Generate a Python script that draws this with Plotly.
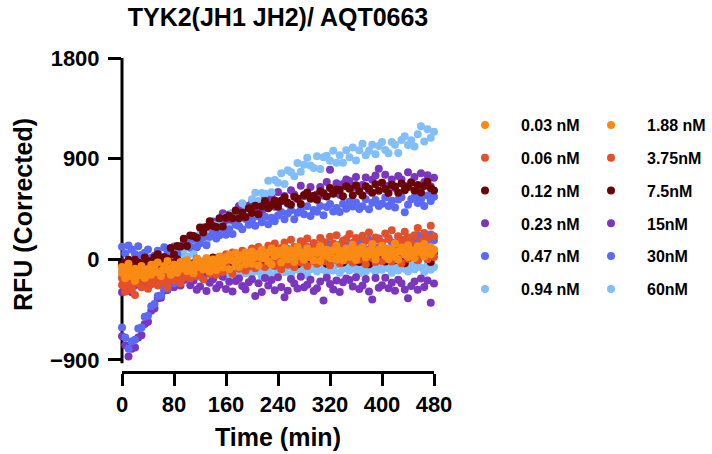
import plotly.graph_objects as go

FONT = "Arial, 'Liberation Sans', sans-serif"

# sampling times (min)
time_min = list(range(0, 481, 5))
x_ticks = [0, 80, 160, 240, 320, 400, 480]
y_ticks = [-900, 0, 900, 1800]

labels = ["0.03 nM", "0.06 nM", "0.12 nM", "0.23 nM", "0.47 nM", "0.94 nM",
          "1.88 nM", "3.75nM", "7.5nM", "15nM", "30nM", "60nM"]
colors = ["#F98A14", "#E3502A", "#6A0404", "#7B36BF", "#5A6AF6", "#82BEF9",
          "#F98A14", "#E3502A", "#6A0404", "#7B36BF", "#5A6AF6", "#82BEF9"]

rfu_0_03 = [
    -122, -170, -92, -152, -195, -115, -134, -168, -88, -138,
    -58, -116, -150, -75, -96, -140, -62, -120, -86, -45,
    -108, -62, -125, -72, -30, -92, -48, -110, -40, -98,
    -26, -75, -8, -90, -12, -52, -70, 15, -45, -4,
    -40, 22, -58, 10, 38, -20, -45, 28, 45, -30,
    35, 0, 62, -22, 55, 25, -5, 70, 18, -10,
    72, -15, 55, 60, 10, 80, -5, 45, -10, 65,
    20, 82, -8, 52, 95, 15, 40, 78, -2, 58,
    95, 30, 0, 78, 52, -5, 70, 92, 20, 50,
    10, 88, 62, 25, 100, 45, 80]
rfu_0_06 = [
    -230, -290, -200, -275, -320, -215, -250, -180, -265, -225,
    -170, -235, -150, -205, -250, -160, -190, -130, -215, -165,
    -110, -170, -95, -150, -120, -180, -85, -130, -70, -140,
    -60, -115, -40, -95, -130, -50, -85, -20, -100, -65,
    -20, -80, -35, 5, -70, -45, 10, -60, -25, -90,
    15, -50, -10, -70, 25, -30, 5, -60, 30, -15,
    -40, 35, -20, 20, -55, 40, 0, -35, 50, -10,
    30, -30, 55, -5, 20, -45, 45, 10, -25, 60,
    -15, 40, 65, -20, 25, 50, -35, 70, 5, 30,
    55, -10, 45, 75, 0, 40, 20]
rfu_0_12 = [
    -40, -100, -60, -20, -85, -130, -50, -75, -15, -95,
    -65, -10, -90, -45, -120, -30, -70, 0, -55, -85,
    -20, -75, -35, 5, -60, -95, -15, -40, 15, -70,
    -45, 10, -30, -65, 25, -10, -50, 35, -20, 5,
    -35, 40, 0, -55, 20, -25, 50, -10, 30, -40,
    15, -30, 55, 5, -45, 35, -15, 60, 0, 25,
    -20, 45, 10, -40, 65, 20, -5, 50, -30, 35,
    70, 0, 40, -25, 55, 15, -45, 80, 25, 5,
    45, -20, 75, 30, -10, 60, 10, -35, 85, 20,
    50, -5, 40, 90, 15, -25, 60]
rfu_0_23 = [
    -690, -770, -870, -800, -790, -700, -680, -580, -560, -460,
    -440, -350, -345, -280, -275, -230, -250, -200, -235, -185,
    -169, -233, -191, -274, -244, -161, -285, -210, -180, -259,
    -229, -157, -266, -202, -289, -195, -172, -240, -270, -206,
    -180, -330, -214, -293, -169, -236, -187, -278, -161, -248,
    -340, -281, -176, -217, -263, -157, -251, -229, -184, -285,
    -259, -199, -370, -165, -221, -270, -191, -293, -206, -172,
    -187, -244, -161, -266, -236, -176, -289, -360, -169, -255,
    -233, -165, -259, -210, -281, -184, -214, -270, -350, -240,
    -199, -274, -172, -248, -191, -390, -217]
rfu_0_47 = [
    -610, -700, -800, -735, -720, -620, -610, -515, -505, -420,
    -400, -330, -325, -260, -265, -200, -215, -160, -185, -130,
    -150, -115, -125, -80, -110, -60, -95, -45, -85, -40,
    -70, -20, -55, 5, -35, 20, -25, 30, -10, 40,
    -20, 45, 0, 60, 15, 70, -5, 55, 25, 85,
    30, 90, 50, 15, 100, 65, 35, 110, 55, 80,
    120, 60, 95, 140, 70, 115, 45, 130, 90, 155,
    100, 145, 75, 165, 120, 90, 175, 130, 105, 185,
    140, 95, 190, 150, 120, 200, 135, 175, 110, 195,
    160, 215, 130, 185, 145, 220, 170]
rfu_0_94 = [
    -150, -200, -130, -185, -160, -215, -140, -175, -120, -190,
    -165, -125, -200, -145, -110, -180, -155, -130, -195, -140,
    -115, -170, -135, -95, -160, -125, -185, -105, -150, -120,
    -140, -90, -165, -115, -135, -80, -150, -105, -125, -95,
    -130, -75, -110, -150, -90, -120, -70, -140, -100, -85,
    -115, -65, -135, -95, -60, -120, -80, -145, -90, -70,
    -110, -55, -95, -130, -75, -100, -50, -120, -85, -65,
    -100, -45, -90, -125, -70, -110, -55, -85, -115, -60,
    -95, -40, -80, -120, -60, -100, -45, -85, -110, -55,
    -90, -35, -75, -115, -50, -95, -70]
rfu_1_88 = [
    -70, -125, -40, -110, -85, -145, -60, -95, -130, -50,
    -90, -30, -105, -60, -15, -80, -50, -95, -25, -65,
    -10, -70, -45, 5, -60, -20, 10, -55, -5, -35,
    25, -30, 15, 40, -10, 55, 0, 35, 60, 10,
    70, 20, 45, 85, 10, 60, 95, 30, 75, 40,
    100, 35, 80, 15, 110, 60, 45, 95, 20, 70,
    55, 115, 30, 85, 65, 10, 120, 75, 40, 95,
    60, 130, 25, 90, 110, 45, 75, 135, 30, 85,
    120, 55, 95, 20, 140, 70, 105, 40, 125, 80,
    50, 115, 90, 135, 60, 110, 85]
rfu_3_75 = [
    -170, -230, -185, -250, -140, -215, -175, -120, -200, -160,
    -130, -185, -110, -160, -200, -95, -145, -170, -80, -120,
    -60, -115, -75, -40, -95, -20, -70, -50, 0, -45,
    20, -35, 45, 0, 60, -15, 35, 75, 15, 55,
    95, 40, 110, 65, 20, 120, 80, 140, 55, 100,
    150, 90, 175, 110, 70, 160, 130, 185, 95, 145,
    120, 190, 155, 85, 200, 140, 215, 110, 165, 180,
    225, 140, 190, 110, 210, 165, 240, 130, 195, 175,
    150, 230, 180, 260, 125, 205, 170, 245, 195, 140,
    215, 280, 160, 235, 190, 300, 205]
rfu_7_5 = [
    -28, -56, -5, -73, -5, -28, -47, 15, -25, -60,
    17, 44, -21, 19, 4, 100, 42, 119, 114, 183,
    118, 213, 208, 192, 283, 240, 289, 339, 297, 288,
    366, 292, 372, 389, 366, 434, 367, 418, 377, 455,
    413, 479, 403, 474, 520, 455, 486, 525, 470, 523,
    554, 506, 488, 559, 544, 495, 575, 596, 541, 568,
    531, 607, 589, 560, 637, 585, 623, 620, 563, 652,
    630, 573, 662, 607, 570, 652, 631, 594, 671, 613,
    683, 627, 593, 666, 651, 594, 678, 618, 647, 684,
    615, 663, 597, 656, 692, 635, 614]
rfu_15 = [
    -296, -240, -208, -296, -234, -200, -238, -156, -245, -171,
    -177, -111, -184, -84, -37, -90, -40, -52, 53, 29,
    140, 102, 171, 108, 170, 283, 176, 281, 338, 269,
    316, 412, 316, 399, 322, 437, 476, 416, 397, 478,
    518, 446, 498, 422, 562, 498, 558, 470, 602, 518,
    566, 497, 616, 579, 538, 657, 563, 593, 647, 545,
    579, 647, 567, 691, 800, 592, 680, 576, 672, 712,
    700, 644, 736, 628, 664, 732, 615, 710, 748, 810,
    682, 756, 658, 712, 638, 744, 714, 656, 777, 690,
    736, 658, 768, 690, 752, 650, 728]
rfu_30 = [
    111, 52, 123, 86, 45, 117, 41, 57, 88, 13,
    32, 75, 16, 107, 75, 47, 113, 46, 114, 147,
    145, 111, 180, 112, 142, 196, 125, 200, 236, 185,
    214, 276, 218, 266, 226, 308, 298, 267, 360, 309,
    349, 300, 381, 331, 380, 313, 372, 339, 392, 422,
    357, 409, 439, 358, 416, 443, 403, 474, 387, 440,
    425, 476, 394, 466, 494, 426, 458, 423, 496, 451,
    515, 472, 507, 449, 474, 537, 448, 506, 530, 475,
    497, 552, 475, 524, 463, 534, 554, 420, 487, 536,
    556, 503, 534, 477, 569, 521, 558]
rfu_60 = [
    -100, -150, -72, -120, -150, -72, -95, -125, -52, -103,
    -25, -68, -90, -12, -15, -55, 33, -6, 38, 87,
    26, 124, 48, 152, 224, 160, 148, 256, 308, 202,
    305, 277, 378, 286, 415, 400, 384, 500, 452, 398,
    536, 594, 520, 593, 586, 702, 599, 708, 684, 768,
    672, 795, 779, 742, 861, 783, 844, 908, 838, 816,
    922, 808, 912, 926, 880, 970, 864, 930, 864, 974,
    913, 1000, 882, 975, 1032, 929, 970, 1023, 940, 1013,
    1049, 977, 948, 1048, 1023, 951, 1066, 1100, 1022, 1064,
    1009, 1118, 1190, 1053, 1162, 1087, 1140]

series = [rfu_0_03, rfu_0_06, rfu_0_12, rfu_0_23, rfu_0_47, rfu_0_94,
          rfu_1_88, rfu_3_75, rfu_7_5, rfu_15, rfu_30, rfu_60]
for s in series:
    assert len(s) == len(time_min), len(s)

# drawing order (later = on top)
draw_order = [5, 3, 9, 11, 4, 10, 8, 2, 7, 1, 6, 0]

fig = go.Figure()
for i in draw_order:
    fig.add_trace(go.Scatter(
        x=time_min, y=series[i], mode="markers", name=labels[i],
        marker=dict(color=colors[i], size=8, line=dict(width=0)),
        legend="legend" if i < 6 else "legend2",
        legendgroup=labels[i], legendrank=i, cliponaxis=False,
    ))

W, H = 712, 454
legend_common = dict(
    xref="container", yref="container", xanchor="left", yanchor="top",
    font=dict(family=FONT, size=16, color="black", weight="bold"),
    itemwidth=62, tracegroupgap=9, traceorder="grouped", itemsizing="trace",
    bgcolor="rgba(0,0,0,0)", borderwidth=0,
)

fig.update_layout(
    width=W, height=H,
    margin=dict(l=122, r=278, t=58, b=83, autoexpand=False),
    paper_bgcolor="white", plot_bgcolor="white",
    font=dict(family=FONT, color="black"),
    title=dict(text="TYK2(JH1 JH2)/ AQT0663", xref="paper", x=0.5, xanchor="center",
               yref="container", y=1 - 17 / H, yanchor="middle",
               font=dict(family=FONT, size=25, color="black", weight="bold")),
    xaxis=dict(range=[0, 480], tickvals=x_ticks, ticks="outside", ticklen=12, tickwidth=3,
               tickcolor="black", showline=True, linewidth=3, linecolor="black",
               showgrid=False, zeroline=False,
               tickfont=dict(family=FONT, size=22, color="black", weight="bold"),
               title=dict(text="Time (min)", standoff=13,
                          font=dict(family=FONT, size=25, color="black", weight="bold"))),
    yaxis=dict(range=[-1000, 1800], tickvals=y_ticks, ticks="outside", ticklen=13, tickwidth=3,
               tickcolor="black", showline=False, showgrid=False, zeroline=False,
               ticklabelstandoff=4,
               tickfont=dict(family=FONT, size=22, color="black", weight="bold"),
               title=dict(text="RFU (Corrected)", standoff=10,
                          font=dict(family=FONT, size=25, color="black", weight="bold"))),
    legend=dict(x=449 / W, y=1 - 108 / H, **legend_common),
    legend2=dict(x=575 / W, y=1 - 108 / H, **legend_common),
    shapes=[dict(type="line", xref="paper", yref="y", x0=0, x1=0, y0=-930, y1=1815,
                 line=dict(color="black", width=3), layer="below")],
)

fig.write_html("out.html", config={"displayModeBar": False},
               post_script="document.body.style.margin='0';")
